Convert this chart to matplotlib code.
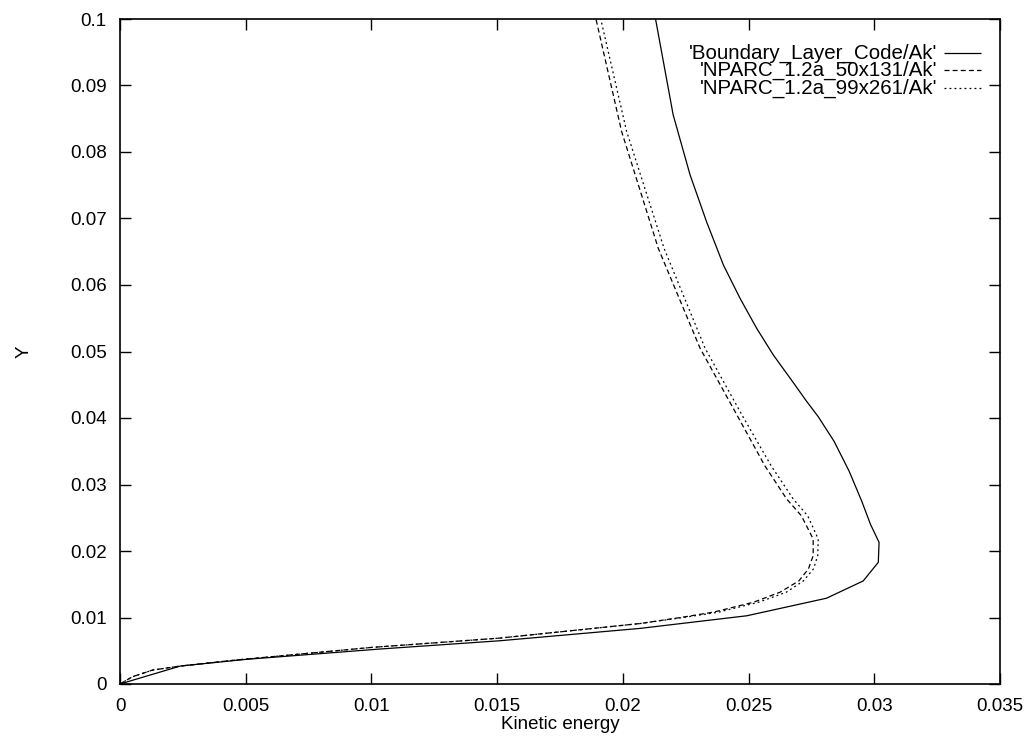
import matplotlib
matplotlib.use('Agg')
import matplotlib.pyplot as plt
from matplotlib.ticker import MultipleLocator, FormatStrFormatter

# *** Data *** #
# Boundary layer code (solid)
blc_ke = [0.0, 0.0024, 0.0050, 0.01034, 0.0151, 0.02068, 0.02493, 0.0281, 0.02956,
          0.03016, 0.03019, 0.02985, 0.0295, 0.0290, 0.0284, 0.02777, 0.02731,
          0.02665, 0.02598, 0.02532, 0.02466, 0.0240, 0.02333, 0.02267, 0.0220, 0.0213]
blc_y = [0.0, 0.0027, 0.0037, 0.00526, 0.0065, 0.00836, 0.01026, 0.0129, 0.0155,
         0.0183, 0.0213, 0.0240, 0.0275, 0.0320, 0.0365, 0.0402, 0.0425,
         0.0460, 0.0495, 0.0535, 0.0580, 0.0630, 0.0695, 0.0766, 0.0856, 0.1]

# NPARC 50x131 (dashed)
n50_ke = [0.0, 0.0005, 0.0013, 0.0024, 0.0046, 0.0100, 0.0151, 0.0207, 0.0223,
          0.0236, 0.0252, 0.02625, 0.0270, 0.02738, 0.02757, 0.02757, 0.0271,
          0.02652, 0.02565, 0.02453, 0.02307, 0.02141, 0.01995, 0.01893]
n50_y = [0.0, 0.0011, 0.0021, 0.0027, 0.0036, 0.0055, 0.0069, 0.0091, 0.0100,
         0.0108, 0.0123, 0.0138, 0.0155, 0.0173, 0.0193, 0.0218, 0.0253,
         0.0278, 0.0328, 0.0405, 0.0505, 0.0655, 0.0831, 0.1]

# NPARC 99x261 (dotted)
n99_ke = [0.0, 0.0005, 0.0013, 0.0024, 0.0046, 0.0100, 0.0151, 0.0207, 0.0224,
          0.0238, 0.0254, 0.0265, 0.02718, 0.02758, 0.02775, 0.02777, 0.02735,
          0.02678, 0.0259, 0.02473, 0.02327, 0.02164, 0.02015, 0.01912]
n99_y = [0.0, 0.0011, 0.0021, 0.0027, 0.0036, 0.0055, 0.0069, 0.0091, 0.0100,
         0.0108, 0.0123, 0.0138, 0.0155, 0.0173, 0.0193, 0.0218, 0.0253,
         0.0278, 0.0328, 0.0405, 0.0505, 0.0655, 0.0831, 0.1]

labels = ["'Boundary_Layer_Code/Ak'", "'NPARC_1.2a_50x131/Ak'", "'NPARC_1.2a_99x261/Ak'"]

plt.rcParams['font.family'] = ['Liberation Sans', 'DejaVu Sans']

fig = plt.figure(figsize=(10.34, 7.42), dpi=100)
ax = fig.add_axes([120/1034, 1-684/742, 880/1034, 665/742])

lw = 0.9
series = [(blc_ke, blc_y, (0, ())),
          (n50_ke, n50_y, (0, (4, 2.5))),
          (n99_ke, n99_y, (0, (1.5, 2.5)))]
for xs, ys, ls in series:
    ax.plot(xs, ys, color='black', lw=lw, linestyle=ls)

ax.set_xlim(0, 0.035)
ax.set_ylim(0, 0.1)
ax.xaxis.set_major_locator(MultipleLocator(0.005))
ax.yaxis.set_major_locator(MultipleLocator(0.01))
ax.xaxis.set_major_formatter(FormatStrFormatter('%g'))
ax.yaxis.set_major_formatter(FormatStrFormatter('%g'))
ax.tick_params(direction='in', length=8, width=1, top=True, right=True, labelsize=13.5)
ax.tick_params(axis='x', pad=10)
ax.tick_params(axis='y', pad=9.5)
for sp in ax.spines.values():
    sp.set_linewidth(1.2)

ax.set_xlabel('Kinetic energy', fontsize=13.5, labelpad=1)
ax.set_ylabel('Y', fontsize=13.5, rotation=90)
ax.yaxis.set_label_coords(-0.099, 0.5)

# Legend, gnuplot style: right aligned text, sample on the right
for i, (xs, ys, ls) in enumerate(series):
    yy = 0.949 - i * 0.0263
    ax.text(0.929, yy, labels[i], transform=ax.transAxes, ha='right', va='center', fontsize=14.8)
    ax.plot([0.936, 0.978], [yy, yy], transform=ax.transAxes, color='black', lw=lw, linestyle=ls)

fig.savefig('out.png', dpi=100)
